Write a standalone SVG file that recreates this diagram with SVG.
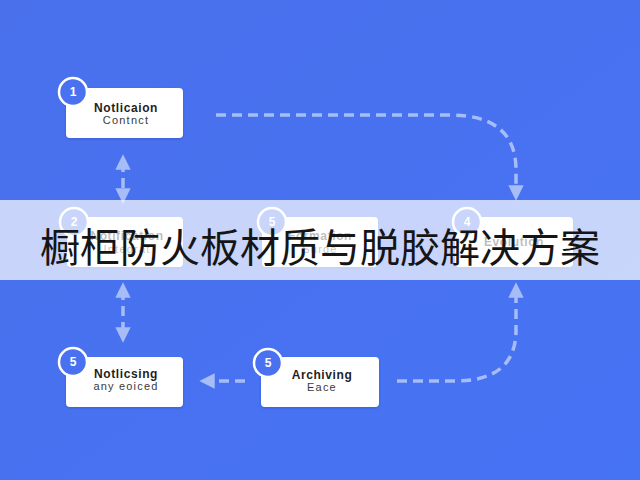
<svg xmlns="http://www.w3.org/2000/svg" width="640" height="480" viewBox="0 0 640 480">
<defs>
<linearGradient id="bg" x1="0" y1="0" x2="1" y2="1">
<stop offset="0" stop-color="#4a70ec"/>
<stop offset="1" stop-color="#4673f4"/>
</linearGradient>
<marker id="ah" viewBox="0 0 10 10" refX="5" refY="5" markerWidth="4.4" markerHeight="4.4" orient="auto-start-reverse" markerUnits="strokeWidth">
<path d="M0,0 L10,5 L0,10 z" fill="#a7bdf8"/>
</marker>
<filter id="sh" x="-10%" y="-10%" width="120%" height="130%">
<feDropShadow dx="0" dy="1" stdDeviation="1.2" flood-color="#1e3a9a" flood-opacity="0.35"/>
</filter>
</defs>
<style>
.box{fill:#ffffff;filter:url(#sh)}
.circ{fill:#4a72f0;stroke:#ffffff;stroke-width:2.5}
.num{font-family:"Liberation Sans",Arial,sans-serif;font-size:12px;font-weight:bold;fill:#ffffff;text-anchor:middle}
.t1{font-family:"Liberation Sans",Arial,sans-serif;font-size:12px;font-weight:bold;fill:#1f1f1f;text-anchor:middle;letter-spacing:0.6px}
.t2{font-family:"Liberation Sans",Arial,sans-serif;font-size:11px;fill:#3a3a3a;text-anchor:middle;letter-spacing:1.2px}
.con{fill:none;stroke:#a7bdf8;stroke-width:3.5;stroke-dasharray:10 6}
.ttl{font-family:"Noto Sans CJK SC","Noto Sans CJK JP",sans-serif;font-size:40px;fill:#151515;text-anchor:middle}
</style>
<rect x="0" y="0" width="640" height="480" fill="url(#bg)"/>

<g id="connectors">
<path class="con" d="M216,115 H450 Q516,115 516,170 V193" marker-end="url(#ah)"/>
<path class="con" d="M397,381 H455 Q516,381 516,330 V290" marker-end="url(#ah)"/>
<path class="con" d="M245,381 H207" marker-end="url(#ah)"/>
<path class="con" d="M123,162 V196" marker-start="url(#ah)" marker-end="url(#ah)"/>
<path class="con" d="M123,290 V335" marker-start="url(#ah)" marker-end="url(#ah)"/>
</g>

<g id="node1">
<rect class="box" x="66" y="88" width="117" height="50" rx="4"/>
<circle class="circ" cx="73" cy="92" r="14"/>
<text class="num" x="73" y="96">1</text>
<text class="t1" x="126" y="112">Notlicaion</text>
<text class="t2" x="126" y="124">Contnct</text>
</g>

<g id="node2">
<rect class="box" x="67" y="217" width="116" height="50" rx="4"/>
<circle class="circ" cx="74" cy="222" r="14"/>
<text class="num" x="74" y="226">2</text>
<text class="t1" x="127" y="240">Notification</text>
<text class="t2" x="127" y="253">Integrat</text>
</g>

<g id="node3">
<rect class="box" x="262" y="217" width="116" height="50" rx="4"/>
<circle class="circ" cx="272" cy="222" r="14"/>
<text class="num" x="272" y="226">5</text>
<text class="t1" x="320" y="240">Formation</text>
<text class="t2" x="320" y="253">Surge</text>
</g>

<g id="node4">
<rect class="box" x="455" y="217" width="118" height="50" rx="4"/>
<circle class="circ" cx="467" cy="222" r="14"/>
<text class="num" x="467" y="226">4</text>
<text class="t1" x="514" y="246">Evolution</text>
</g>

<g id="node5">
<rect class="box" x="66" y="357" width="117" height="50" rx="4"/>
<circle class="circ" cx="73" cy="362" r="14"/>
<text class="num" x="73" y="366">5</text>
<text class="t1" x="126" y="378">Notlicsing</text>
<text class="t2" x="126" y="390">any eoiced</text>
</g>

<g id="node6">
<rect class="box" x="261" y="357" width="118" height="50" rx="4"/>
<circle class="circ" cx="268" cy="363" r="14"/>
<text class="num" x="268" y="367">5</text>
<text class="t1" x="322" y="379">Archiving</text>
<text class="t2" x="322" y="391">Eace</text>
</g>

<rect x="0" y="200" width="640" height="80" fill="#ffffff" fill-opacity="0.7"/>
<text class="ttl" x="320" y="262">橱柜防火板材质与脱胶解决方案</text>
</svg>
